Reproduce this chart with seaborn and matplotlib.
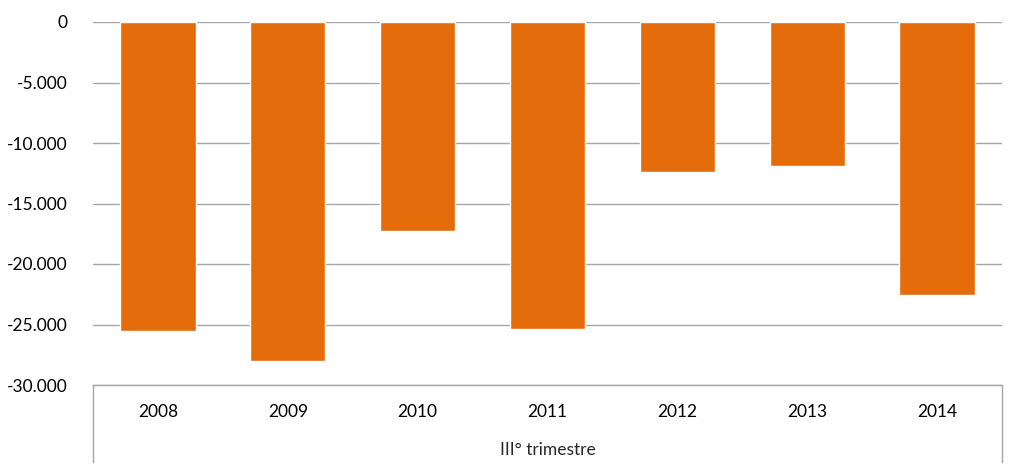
import matplotlib
matplotlib.use("Agg")
import matplotlib.pyplot as plt
import seaborn as sns
import pandas as pd
from matplotlib.ticker import FuncFormatter, MultipleLocator

years = ["2008", "2009", "2010", "2011", "2012", "2013", "2014"]
values = [-25550, -28000, -17300, -25350, -12400, -11900, -22550]
group_label = "III° trimestre"

sns.set_theme(style="white")
plt.rcParams['font.family'] = ['Lato', 'DejaVu Sans']

df = pd.DataFrame({"anno": years, "valore": values})

fig = plt.figure(figsize=(10.23, 4.72), dpi=100)
ax = fig.add_axes([93/1023, 1 - 385/472, (1002-93)/1023, (385-22)/472])

sns.barplot(data=df, x="anno", y="valore", color="#E46C0A", saturation=1,
            width=0.58, ax=ax, zorder=3)

ax.set_ylim(-30000, 0)
ax.set_xlim(-0.5, len(years) - 0.5)
ax.yaxis.set_major_locator(MultipleLocator(5000))
ax.yaxis.set_major_formatter(FuncFormatter(lambda v, p: f"{int(v):,}".replace(",", ".")))
ax.grid(axis="y", color="#A6A6A6", linewidth=1, zorder=0)
ax.set_axisbelow(True)

for s in ["top", "left", "right"]:
    ax.spines[s].set_visible(False)
ax.spines["bottom"].set_color("#A6A6A6")
ax.spines["bottom"].set_linewidth(1)

ax.tick_params(axis="both", length=0, labelsize=12.5, colors="black")
ax.tick_params(axis="y", pad=18)
ax.tick_params(axis="x", pad=14)
ax.set_xlabel("")
ax.set_ylabel("")

# multi-level category axis separators
for xa in (0, 1):
    ax.plot([xa, xa], [0, -77/363], transform=ax.transAxes, color="#A6A6A6",
            linewidth=1, clip_on=False)

ax.text(0.5, -65/363, group_label, transform=ax.transAxes, ha="center",
        va="center", fontsize=12.5)

fig.savefig("out.png", dpi=100)
